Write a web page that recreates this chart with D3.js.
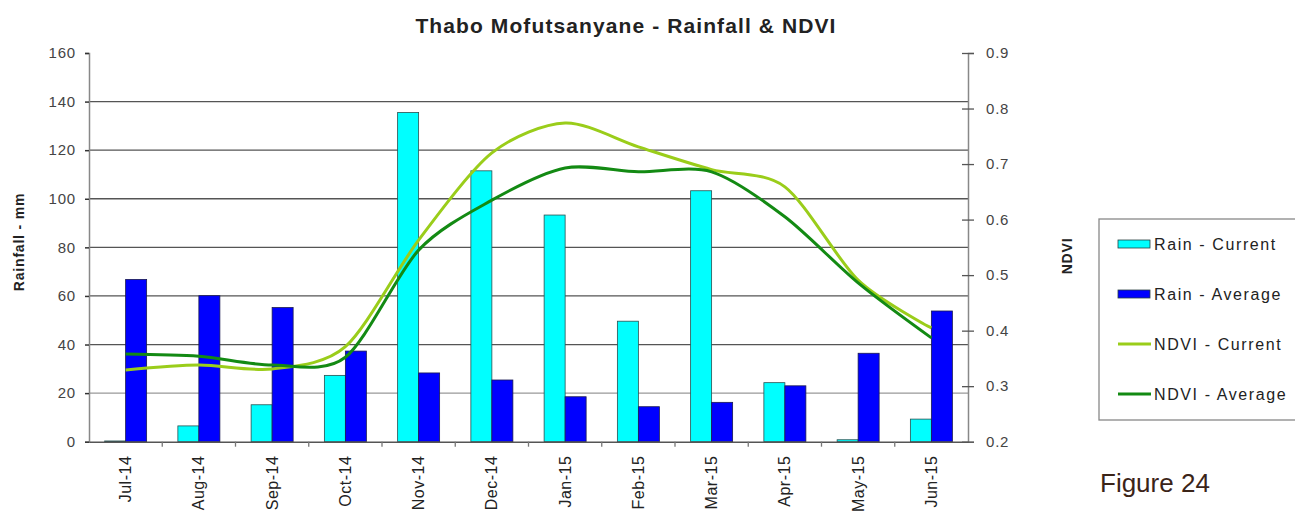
<!DOCTYPE html>
<html>
<head>
<meta charset="utf-8">
<script src="https://cdn.jsdelivr.net/npm/d3@7"></script>
<style>
  body { margin: 0; background: #fff; }
  text { font-family: "Liberation Sans", Arial, sans-serif; }
</style>
</head>
<body>
<div id="chart"></div>
<script>
// months on the x axis
const months = ["Jul-14", "Aug-14", "Sep-14", "Oct-14", "Nov-14", "Dec-14",
  "Jan-15", "Feb-15", "Mar-15", "Apr-15", "May-15", "Jun-15"];
// rainfall in mm
const rainCurrent = [0.3, 6.5, 15.2, 27.3, 135.5, 111.5, 93.3, 49.6, 103.3, 24.3, 0.8, 9.3];
const rainAverage = [66.8, 60.1, 55.2, 37.3, 28.3, 25.4, 18.5, 14.4, 16.2, 23.0, 36.4, 53.8];
// NDVI
const ndviCurrent = [0.329, 0.338, 0.331, 0.371, 0.563, 0.72, 0.774, 0.731, 0.69, 0.659, 0.491, 0.405];
const ndviAverage = [0.358, 0.354, 0.338, 0.352, 0.545, 0.635, 0.693, 0.686, 0.686, 0.605, 0.486, 0.387];
const rainTicks = [0, 20, 40, 60, 80, 100, 120, 140, 160];
const ndviTicks = [0.2, 0.3, 0.4, 0.5, 0.6, 0.7, 0.8, 0.9];

const W = 1295, H = 517;
const plotLeft = 89, plotRight = 968, plotTop = 53, plotBottom = 441.7;

const svg = d3.select("#chart").append("svg")
  .attr("width", W)
  .attr("height", H);

const x = d3.scaleBand()
  .domain(months)
  .range([plotLeft, plotRight]);

const y = d3.scaleLinear()
  .domain([0, 160])
  .range([plotBottom, plotTop]);

const y2 = d3.scaleLinear()
  .domain([0.2, 0.9])
  .range([plotBottom, plotTop]);

// title
svg.append("text")
  .attr("x", 626)
  .attr("y", 33)
  .attr("text-anchor", "middle")
  .style("font-size", "21px")
  .style("font-weight", "bold")
  .style("letter-spacing", "1.1px")
  .style("fill", "#222")
  .text("Thabo Mofutsanyane - Rainfall & NDVI");

// grid lines
svg.append("g")
  .selectAll("line")
  .data(rainTicks.filter(d => d > 0 && d < 160))
  .enter()
  .append("line")
  .attr("x1", plotLeft)
  .attr("x2", plotRight)
  .attr("y1", d => y(d))
  .attr("y2", d => y(d))
  .attr("stroke", d => d === 20 ? "#999" : "#555")
  .attr("stroke-width", 1.3);

// left axis
const gl = svg.append("g")
  .attr("transform", `translate(${plotLeft},0)`)
  .call(d3.axisLeft(y).tickValues(rainTicks).tickSize(4).tickPadding(9));
gl.select(".domain").attr("stroke", "#888").attr("stroke-width", 1.5);
gl.selectAll(".tick line").attr("stroke", "#333").attr("stroke-width", 1.5);
gl.selectAll("text")
  .style("font-size", "15px")
  .style("letter-spacing", "0.8px")
  .style("fill", "#444")
  .style("font-family", "Liberation Sans, Arial, sans-serif");

// right axis
const gr = svg.append("g")
  .attr("transform", `translate(${plotRight},0)`)
  .call(d3.axisRight(y2).tickValues(ndviTicks).tickSize(6).tickPadding(12)
    .tickFormat(d3.format(".1f")));
gr.select(".domain").attr("stroke", "#888").attr("stroke-width", 1.5);
gr.selectAll(".tick line")
  .attr("x1", -6)
  .attr("stroke", "#555")
  .attr("stroke-width", 1.3);
gr.selectAll("text")
  .style("font-size", "15px")
  .style("letter-spacing", "0.8px")
  .style("fill", "#444")
  .style("font-family", "Liberation Sans, Arial, sans-serif");

// bars
const bw = 21;
const bars = svg.append("g");
bars.selectAll("rect.cur")
  .data(months)
  .enter()
  .append("rect")
  .attr("class", "cur")
  .attr("x", d => x(d) + x.bandwidth() / 2 - bw)
  .attr("y", (d, i) => y(rainCurrent[i]))
  .attr("width", bw)
  .attr("height", (d, i) => plotBottom - y(rainCurrent[i]))
  .attr("fill", "#00ffff")
  .attr("stroke", "#2a5050")
  .attr("stroke-width", 0.8);
bars.selectAll("rect.avg")
  .data(months)
  .enter()
  .append("rect")
  .attr("class", "avg")
  .attr("x", d => x(d) + x.bandwidth() / 2)
  .attr("y", (d, i) => y(rainAverage[i]))
  .attr("width", bw)
  .attr("height", (d, i) => plotBottom - y(rainAverage[i]))
  .attr("fill", "#0000ff")
  .attr("stroke", "#1a1a50")
  .attr("stroke-width", 0.8);

// x axis
const gx = svg.append("g")
  .attr("transform", `translate(0,${plotBottom})`)
  .call(d3.axisBottom(x).tickSize(0).tickPadding(10));
gx.select(".domain").attr("stroke", "#555").attr("stroke-width", 1.5);
gx.selectAll("text")
  .attr("transform", "rotate(-90)")
  .attr("x", -14)
  .attr("y", 0)
  .attr("dy", "0.35em")
  .attr("text-anchor", "end")
  .style("font-size", "16px")
  .style("letter-spacing", "0.5px")
  .style("fill", "#222")
  .style("font-family", "Liberation Sans, Arial, sans-serif");
// category separators
gx.selectAll("line.sep")
  .data(months.slice(1))
  .enter()
  .append("line")
  .attr("class", "sep")
  .attr("x1", d => x(d))
  .attr("x2", d => x(d))
  .attr("y1", 0)
  .attr("y2", 5)
  .attr("stroke", "#777")
  .attr("stroke-width", 1.3);

// NDVI lines
const line = d3.line()
  .x((d, i) => x(months[i]) + x.bandwidth() / 2)
  .y(d => y2(d))
  .curve(d3.curveCardinal.tension(0.15));

svg.append("path")
  .attr("d", line(ndviCurrent))
  .attr("fill", "none")
  .attr("stroke", "#9acd1a")
  .attr("stroke-width", 3);
svg.append("path")
  .attr("d", line(ndviAverage))
  .attr("fill", "none")
  .attr("stroke", "#138a13")
  .attr("stroke-width", 3);

// axis titles
svg.append("text")
  .attr("transform", "translate(24,242) rotate(-90)")
  .attr("text-anchor", "middle")
  .style("font-size", "14px")
  .style("font-weight", "bold")
  .style("letter-spacing", "0.8px")
  .style("fill", "#222")
  .text("Rainfall - mm");
svg.append("text")
  .attr("transform", "translate(1072,256) rotate(-90)")
  .attr("text-anchor", "middle")
  .style("font-size", "14px")
  .style("font-weight", "bold")
  .style("letter-spacing", "0.8px")
  .style("fill", "#222")
  .text("NDVI");

// legend
const legendItems = [
  { name: "Rain - Current", color: "#00ffff", type: "bar" },
  { name: "Rain - Average", color: "#0000ff", type: "bar" },
  { name: "NDVI - Current", color: "#9acd1a", type: "line" },
  { name: "NDVI - Average", color: "#138a13", type: "line" }
];
svg.append("rect")
  .attr("x", 1099)
  .attr("y", 219)
  .attr("width", 210)
  .attr("height", 201)
  .attr("fill", "#fff")
  .attr("stroke", "#888")
  .attr("stroke-width", 1.3);
const lg = svg.append("g")
  .selectAll("g")
  .data(legendItems)
  .enter()
  .append("g")
  .attr("transform", (d, i) => `translate(1118,${244 + i * 50})`);
lg.filter(d => d.type === "bar")
  .append("rect")
  .attr("x", 0)
  .attr("y", -4)
  .attr("width", 32)
  .attr("height", 8)
  .attr("fill", d => d.color)
  .attr("stroke", "#2a4040")
  .attr("stroke-width", 0.8);
lg.filter(d => d.type === "line")
  .append("line")
  .attr("x1", 0)
  .attr("x2", 33)
  .attr("y1", 0)
  .attr("y2", 0)
  .attr("stroke", d => d.color)
  .attr("stroke-width", 3);
lg.append("text")
  .attr("x", 36)
  .attr("y", 0)
  .attr("dy", "0.35em")
  .style("font-size", "16px")
  .style("letter-spacing", "1.6px")
  .style("fill", "#222")
  .text(d => d.name);

// figure label
svg.append("text")
  .attr("x", 1100)
  .attr("y", 492)
  .style("font-size", "26px")
  .style("fill", "#3b2418")
  .text("Figure 24");
</script>
</body>
</html>
